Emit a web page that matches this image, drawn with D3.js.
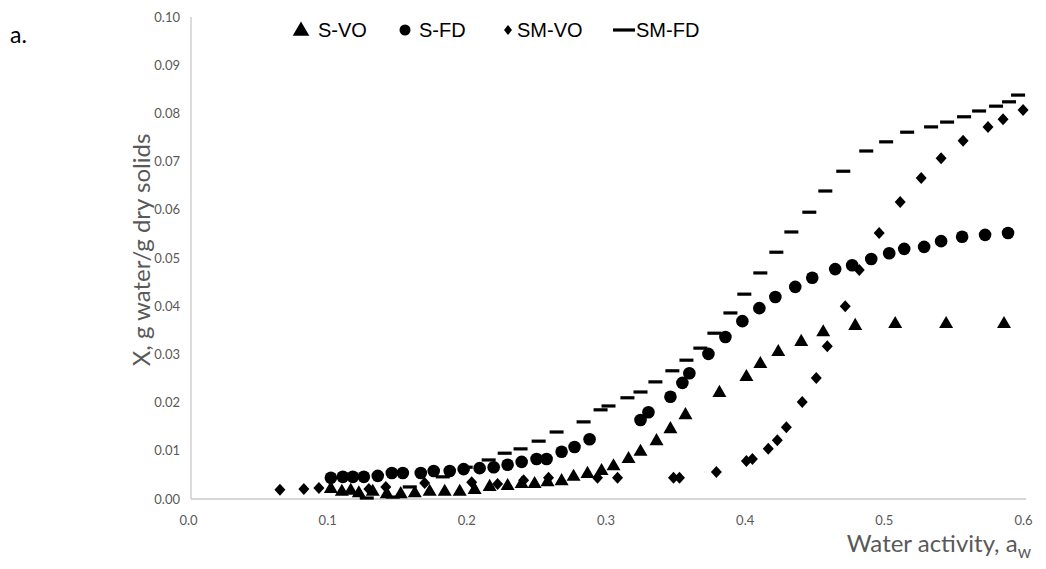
<!DOCTYPE html>
<html><head><meta charset="utf-8">
<script src="https://cdn.jsdelivr.net/npm/d3@7/dist/d3.min.js"></script>
<style>
body{margin:0;background:#fff;}
svg{display:block;}
</style></head>
<body>
<svg id="chart" width="1046" height="569"></svg>
<script>
// ---- data ----
const seriesNames = ["S-VO", "S-FD", "SM-VO", "SM-FD"];
const xTicks = [0.0, 0.1, 0.2, 0.3, 0.4, 0.5, 0.6];
const yTicks = [0.00, 0.01, 0.02, 0.03, 0.04, 0.05, 0.06, 0.07, 0.08, 0.09, 0.10];

const sVO_aw = [0.1005,0.1084,0.1148,0.1206,0.1306,0.1407,0.1507,0.1608,0.1715,0.1823,0.1931,0.2038,0.2146,0.2275,0.2376,0.2469,0.2562,0.2663,0.2749,0.2849,0.2950,0.3036,0.3144,0.3230,0.3345,0.3445,0.3553,0.3797,0.3991,0.4091,0.4220,0.4385,0.4543,0.4773,0.5060,0.5426,0.5842];
const sVO_X  = [0.0021,0.0015,0.0017,0.0012,0.0015,0.0010,0.0010,0.0012,0.0015,0.0015,0.0015,0.0019,0.0025,0.0027,0.0031,0.0031,0.0035,0.0037,0.0046,0.0052,0.0058,0.0068,0.0083,0.0098,0.0120,0.0145,0.0174,0.0220,0.0253,0.0280,0.0305,0.0326,0.0346,0.0359,0.0363,0.0363,0.0363];

const sFD_aw = [0.1005,0.1091,0.1163,0.1242,0.1342,0.1443,0.1522,0.1651,0.1744,0.1859,0.1959,0.2074,0.2175,0.2275,0.2376,0.2483,0.2555,0.2663,0.2756,0.2864,0.3230,0.3287,0.3445,0.3531,0.3581,0.3718,0.3840,0.3962,0.4084,0.4199,0.4342,0.4464,0.4629,0.4751,0.4888,0.5017,0.5125,0.5268,0.5390,0.5541,0.5706,0.5871];
const sFD_X  = [0.0044,0.0046,0.0046,0.0046,0.0048,0.0054,0.0054,0.0054,0.0058,0.0058,0.0062,0.0064,0.0066,0.0071,0.0077,0.0083,0.0083,0.0098,0.0108,0.0124,0.0164,0.0180,0.0212,0.0241,0.0261,0.0301,0.0336,0.0369,0.0396,0.0419,0.0440,0.0459,0.0477,0.0485,0.0498,0.0510,0.0519,0.0523,0.0535,0.0544,0.0548,0.0552];

const smVO_aw = [0.0639,0.0811,0.0919,0.1278,0.1400,0.1679,0.2017,0.2203,0.2390,0.2569,0.2921,0.3065,0.3467,0.3510,0.3775,0.3991,0.4034,0.4148,0.4213,0.4278,0.4392,0.4493,0.4572,0.4701,0.4802,0.4945,0.5096,0.5247,0.5390,0.5548,0.5727,0.5835,0.5979];
const smVO_X  = [0.0019,0.0021,0.0023,0.0021,0.0025,0.0033,0.0035,0.0031,0.0039,0.0044,0.0044,0.0044,0.0044,0.0044,0.0056,0.0079,0.0083,0.0104,0.0122,0.0149,0.0201,0.0251,0.0317,0.0400,0.0475,0.0552,0.0616,0.0666,0.0707,0.0743,0.0772,0.0788,0.0807];

const smFD_aw = [0.1263,0.1450,0.1572,0.1809,0.1974,0.2139,0.2254,0.2368,0.2498,0.2627,0.2821,0.2943,0.3000,0.3136,0.3230,0.3337,0.3459,0.3560,0.3660,0.3761,0.3876,0.3976,0.4091,0.4206,0.4314,0.4443,0.4558,0.4687,0.4852,0.4995,0.5146,0.5318,0.5433,0.5555,0.5663,0.5785,0.5878,0.5943];
const smFD_X  = [0.0002,0.0004,0.0025,0.0046,0.0066,0.0081,0.0095,0.0104,0.0120,0.0139,0.0160,0.0185,0.0193,0.0210,0.0222,0.0243,0.0266,0.0288,0.0313,0.0344,0.0386,0.0425,0.0469,0.0512,0.0554,0.0595,0.0639,0.0680,0.0722,0.0741,0.0761,0.0772,0.0782,0.0793,0.0805,0.0815,0.0824,0.0838];

// ---- layout ----
const svg = d3.select("#chart");
const L = 191, R = 1026, T = 17, B = 499;
const x = d3.scaleLinear().domain([0, 0.6]).range([L, R]);
const y = d3.scaleLinear().domain([0, 0.1]).range([B, T]);
const grey = "#595959";
const tickFont = "Lato, 'Open Sans', sans-serif";

// axes lines
svg.append("line").attr("x1", L).attr("x2", L).attr("y1", T).attr("y2", B)
  .attr("stroke", "#c8c8c8").attr("stroke-width", 1.3);
svg.append("line").attr("x1", L).attr("x2", R).attr("y1", B).attr("y2", B)
  .attr("stroke", "#c8c8c8").attr("stroke-width", 1.3);

// y tick labels
const yAxis = d3.axisLeft(y).tickValues(yTicks).tickFormat(d3.format(".2f")).tickSize(0).tickPadding(11);
const gy = svg.append("g").attr("transform", `translate(${L},0)`).call(yAxis);
gy.select(".domain").remove();
gy.selectAll("text").attr("fill", grey).style("font-family", tickFont).style("font-size", "13px");

// x tick labels
const xAxis = d3.axisBottom(x).tickValues(xTicks).tickFormat(d3.format(".1f")).tickSize(0).tickPadding(17);
const gx = svg.append("g").attr("transform", `translate(0,${B})`).call(xAxis);
gx.select(".domain").remove();
gx.selectAll("text").attr("fill", grey).attr("dx", -3).style("font-family", tickFont).style("font-size", "13px");

// axis titles
svg.append("text").attr("transform", `translate(150,${(T + B) / 2 - 8}) rotate(-90)`)
  .attr("text-anchor", "middle").attr("fill", grey)
  .style("font-family", tickFont).style("font-size", "24px")
  .text("X, g water/g dry solids");

const xt = svg.append("text").attr("x", 1031).attr("y", 552).attr("text-anchor", "end")
  .attr("fill", grey).style("font-family", tickFont).style("font-size", "24px");
xt.append("tspan").text("Water activity, a");
xt.append("tspan").attr("dy", 6).style("font-size", "17px").text("w");

// panel label
svg.append("text").attr("x", 10).attr("y", 43).attr("fill", "#000")
  .style("font-family", tickFont).style("font-size", "23px").text("a.");

// ---- marks ----
const plot = svg.append("g");
const triSym = d3.symbol().type(d3.symbolTriangle).size(85);
const diamondPath = (w, h) => `M0,${-h / 2}L${w / 2},0L0,${h / 2}L${-w / 2},0Z`;

plot.selectAll(".svo").data(d3.zip(sVO_aw, sVO_X)).join("path")
  .attr("d", triSym).attr("transform", d => `translate(${x(d[0])},${y(d[1])})`).attr("fill", "#000");

plot.selectAll(".sfd").data(d3.zip(sFD_aw, sFD_X)).join("circle")
  .attr("cx", d => x(d[0])).attr("cy", d => y(d[1])).attr("r", 6.3).attr("fill", "#000");

plot.selectAll(".smvo").data(d3.zip(smVO_aw, smVO_X)).join("path")
  .attr("d", diamondPath(11, 12)).attr("transform", d => `translate(${x(d[0])},${y(d[1])})`).attr("fill", "#000");

plot.selectAll(".smfd").data(d3.zip(smFD_aw, smFD_X)).join("rect")
  .attr("x", d => x(d[0]) - 7).attr("y", d => y(d[1]) - 1.6).attr("width", 14).attr("height", 3.2).attr("fill", "#000");

// ---- legend ----
const lg = svg.append("g");
const legFont = "'Liberation Sans', Arial, sans-serif";
const legY = 30;
const legItems = [
  {name: seriesNames[0], mx: 301, tx: 318, kind: "tri"},
  {name: seriesNames[1], mx: 405, tx: 419, kind: "circ"},
  {name: seriesNames[2], mx: 508, tx: 517, kind: "dia"},
  {name: seriesNames[3], mx: 624, tx: 636, kind: "dash"}
];
legItems.forEach(it => {
  if (it.kind === "tri") lg.append("path").attr("d", d3.symbol().type(d3.symbolTriangle).size(120)).attr("transform", `translate(${it.mx},${legY + 1})`);
  if (it.kind === "circ") lg.append("circle").attr("cx", it.mx).attr("cy", legY).attr("r", 5.5);
  if (it.kind === "dia") lg.append("path").attr("d", diamondPath(8, 10)).attr("transform", `translate(${it.mx},${legY})`);
  if (it.kind === "dash") lg.append("rect").attr("x", it.mx - 11).attr("y", legY - 1.6).attr("width", 22).attr("height", 3.2);
  lg.append("text").attr("x", it.tx).attr("y", legY).attr("dy", "0.35em").attr("fill", "#000")
    .style("font-family", legFont).style("font-size", "20px").text(it.name);
});
</script>
</body></html>
